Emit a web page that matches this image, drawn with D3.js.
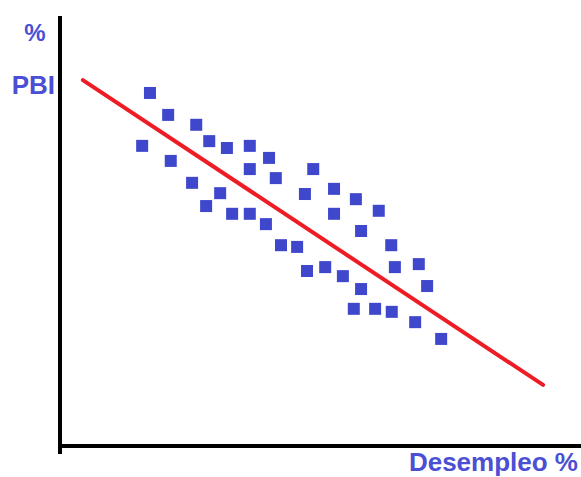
<!DOCTYPE html>
<html><head><meta charset="utf-8">
<script src="https://cdn.jsdelivr.net/npm/d3@7"></script>
<style>html,body{margin:0;padding:0;background:#fff;}</style>
</head><body>
<svg id="c" width="581" height="477"></svg>
<script>
// Desempleo (x) vs PBI (y), arbitrary units 0..10
const desempleo = [1.73,2.08,2.62,1.58,2.87,3.21,3.65,2.13,4.02,3.65,4.15,2.54,3.08,2.81,3.31,3.65,3.96,4.25,4.56,
  4.87,5.27,4.71,5.69,6.13,5.27,5.79,6.37,4.75,5.10,5.44,6.44,6.90,5.79,7.06,5.65,6.06,6.38,6.83,7.33];
const pbi = [8.21,7.70,7.47,6.98,7.09,6.93,6.98,6.63,6.70,6.44,6.23,6.12,5.88,5.58,5.40,5.40,5.16,4.67,4.63,
  6.44,5.98,5.86,5.74,5.47,5.40,5.00,4.67,4.07,4.16,3.95,4.16,4.23,3.65,3.72,3.19,3.19,3.12,2.88,2.49];
const trendX = [0.44, 9.29];
const trendY = [8.51, 1.42];
const labels = {yUnit: "%", yName: "PBI", xName: "Desempleo %"};

const svg = d3.select("#c");
const x = d3.scaleLinear().domain([0,10]).range([60,580]);
const y = d3.scaleLinear().domain([0,10]).range([446,16]);

// axes
svg.append("line").attr("x1",x(0)).attr("x2",x(0)).attr("y1",y(10)).attr("y2",y(0)+8)
  .attr("stroke","#000").attr("stroke-width",4);
svg.append("line").attr("x1",x(0)-2).attr("x2",581).attr("y1",y(0)).attr("y2",y(0))
  .attr("stroke","#000").attr("stroke-width",4);

// trend line
svg.append("line").attr("x1",x(trendX[0])).attr("y1",y(trendY[0]))
  .attr("x2",x(trendX[1])).attr("y2",y(trendY[1]))
  .attr("stroke","#ee1c24").attr("stroke-width",4).attr("stroke-linecap","round");

// points
const s = 12;
svg.selectAll("rect.pt").data(desempleo.map((d,i)=>[d,pbi[i]])).enter().append("rect")
  .attr("class","pt").attr("x",d=>x(d[0])-s/2).attr("y",d=>y(d[1])-s/2)
  .attr("width",s).attr("height",s).attr("fill","#3f48cc");

const tc = "#4a4fd4";
svg.append("text").attr("x",35).attr("y",41).attr("text-anchor","middle")
  .attr("font-family","Liberation Sans, Arial, sans-serif").attr("font-weight","bold")
  .attr("font-size",24).attr("fill",tc).text(labels.yUnit);
svg.append("text").attr("x",55).attr("y",94).attr("text-anchor","end")
  .attr("font-family","Liberation Sans, Arial, sans-serif").attr("font-weight","bold")
  .attr("font-size",26).attr("fill",tc).text(labels.yName);
svg.append("text").attr("x",578).attr("y",471).attr("text-anchor","end")
  .attr("font-family","Liberation Sans, Arial, sans-serif").attr("font-weight","bold")
  .attr("font-size",26).attr("fill",tc).text(labels.xName);
</script>
</body></html>
